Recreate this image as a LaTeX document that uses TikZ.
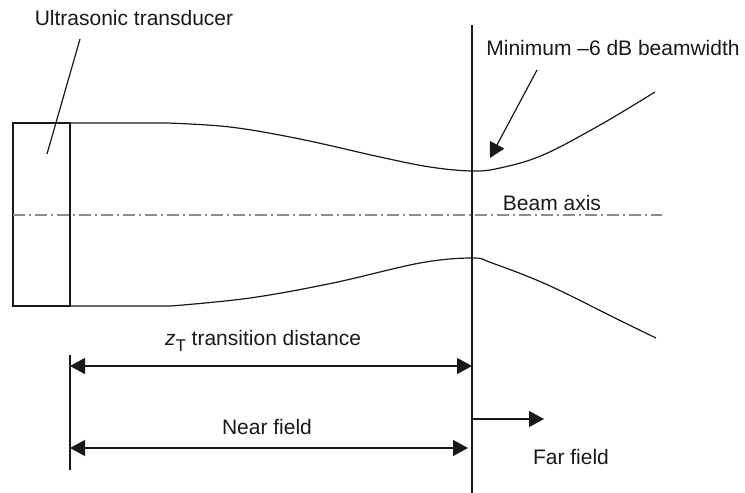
\documentclass[tikz,border=0pt]{standalone}
\usepackage{fontspec}
\setmainfont{Liberation Sans}
\usetikzlibrary{arrows.meta}
\begin{document}
\begin{tikzpicture}[x=1pt,y=-1pt,
  line/.style={line width=1.2pt, black!90},
  lbl/.style={inner sep=0pt, font=\fontsize{21}{25}\selectfont, text=black!90},
  tip/.style={Triangle[length=15pt,width=16pt]},
  dimarrow/.style={line width=1.2pt, black!90, {Triangle[length=15pt,width=16pt]}-{Triangle[length=15pt,width=16pt]}},
  onearrow/.style={line width=1.2pt, black!90, -{Triangle[length=15pt,width=16pt]}},
  axisline/.style={line width=1.2pt, black!45, dash pattern=on 12pt off 4pt on 2pt off 4pt}]
\useasboundingbox (0,0) rectangle (745,493);
% transducer
\node[draw, line width=1.2pt, black!90, minimum width=57pt, minimum height=183pt, inner sep=0pt] (tx) at (41.5,214.5) {};
\coordinate (face1) at (70,123);
\coordinate (face2) at (70,306);
\draw[line] (face1) -- (face2);
% transition line
\coordinate (vtop) at (472,25);
\coordinate (vbot) at (472,493);
\draw[line] (vtop) -- (vbot);
% beam axis
\coordinate (axl) at (13,215);
\coordinate (axr) at (662,215);
\draw[axisline] (axl) -- (axr);
% beam edges
\draw[line] (face1) -- (167,123) plot[smooth, tension=0.6] coordinates {(167,123) (230,127) (300,139) (380,157) (430,167) (472,171) (500,168) (543,155) (600,125) (655,92)};
\draw[line] (face2) -- (171,306) plot[smooth, tension=0.6] coordinates {(171,306) (250,298) (333,283) (420,263) (472,258) (492,263) (548,285) (619,320) (656,338)};
% labels
\node[lbl] (ut) at (134,18) {Ultrasonic transducer};
\coordinate (utA) at (80,39);
\coordinate (utB) at (47,154);
\draw[line] (utA) -- (utB);
\node[lbl] (mn) at (613,48) {Minimum –6 dB beamwidth};
\coordinate (mnA) at (537,70);
\coordinate (mnB) at (490,158);
\draw[onearrow] (mnA) -- (mnB);
\node[lbl] (ba) at (552,203) {Beam axis};
% dimension lines
\coordinate (tickT) at (70,355);
\coordinate (tickB) at (70,470);
\draw[line] (tickT) -- (tickB);
\node[lbl] (zt) at (263,341) {{\itshape z}\raisebox{-6pt}{\fontsize{17}{17}\selectfont T} transition distance};
\coordinate (zA) at (70,366);
\coordinate (zB) at (472,366);
\draw[dimarrow] (zA) -- (zB);
\node[lbl] (nf) at (267,427) {Near field};
\coordinate (nA) at (70,448);
\coordinate (nB) at (468,448);
\draw[dimarrow] (nA) -- (nB);
\coordinate (fA) at (472,419);
\coordinate (fB) at (544,419);
\draw[onearrow] (fA) -- (fB);
\node[lbl] (ff) at (571,457) {Far field};
\end{tikzpicture}
\end{document}
